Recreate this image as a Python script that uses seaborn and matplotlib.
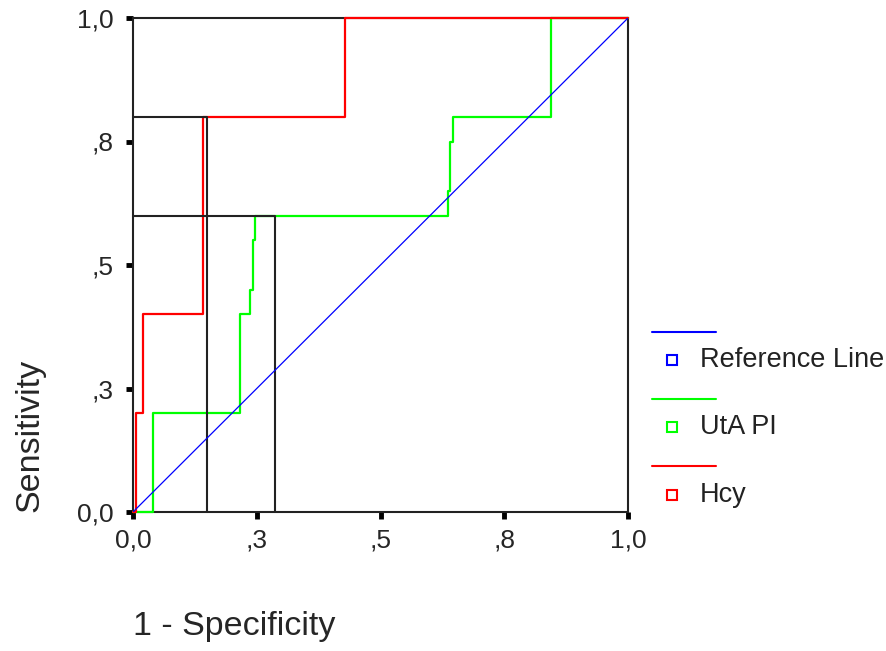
import matplotlib
matplotlib.use("Agg")
import matplotlib.pyplot as plt
import seaborn as sns
import pandas as pd
from matplotlib.lines import Line2D

# ===== data =====
hcy_fpr = [0, 0.006, 0.006, 0.02, 0.02, 0.141, 0.141, 0.428, 0.428, 1.0]
hcy_tpr = [0, 0, 0.2, 0.2, 0.4, 0.4, 0.8, 0.8, 1.0, 1.0]

uta_fpr = [0, 0.04, 0.04, 0.216, 0.216, 0.236, 0.236, 0.242, 0.242, 0.246, 0.246,
           0.636, 0.636, 0.641, 0.641, 0.646, 0.646, 0.844, 0.844, 1.0]
uta_tpr = [0, 0, 0.2, 0.2, 0.4, 0.4, 0.45, 0.45, 0.55, 0.55, 0.6,
           0.6, 0.65, 0.65, 0.75, 0.75, 0.8, 0.8, 1.0, 1.0]

ref_x = [0, 1]
ref_y = [0, 1]

# cut-off markers (1 - specificity, sensitivity)
cut_x = [0.15, 0.286]
cut_y = [0.8, 0.6]

tick_vals = [0, 0.25, 0.5, 0.75, 1.0]
tick_labels = ["0,0", ",3", ",5", ",8", "1,0"]

legend_names = ["Reference Line", "UtA PI", "Hcy"]
legend_colors = ["#0000ff", "#00ff00", "#ff0000"]

# ===== plot =====
sns.set_style("white")
plt.rcParams["font.family"] = ["Liberation Sans", "DejaVu Sans"]

fig = plt.figure(figsize=(8.86, 6.51), dpi=100)
ax = fig.add_axes([133 / 886, 139 / 651, 495 / 886, 494 / 651])

df_uta = pd.DataFrame({"fpr": uta_fpr, "tpr": uta_tpr})
df_hcy = pd.DataFrame({"fpr": hcy_fpr, "tpr": hcy_tpr})

sns.lineplot(data=df_uta, x="fpr", y="tpr", sort=False, estimator=None,
             color="#00ff00", linewidth=1.6, ax=ax, zorder=3, clip_on=False)
sns.lineplot(data=df_hcy, x="fpr", y="tpr", sort=False, estimator=None,
             color="#ff0000", linewidth=1.6, ax=ax, zorder=4, clip_on=False)

for cx, cy in zip(cut_x, cut_y):
    ax.plot([0, cx, cx], [cy, cy, 0], color="#222222", linewidth=1.5,
            zorder=5, clip_on=False)

ax.plot(ref_x, ref_y, color="#0000ff", linewidth=0.9, zorder=6)

ax.set_xlim(0, 1)
ax.set_ylim(0, 1)
ax.set_xticks(tick_vals)
ax.set_xticklabels(tick_labels)
ax.set_yticks(tick_vals)
ax.set_yticklabels(tick_labels)
ax.tick_params(direction="out", length=5, width=3.5, labelsize=19,
               color="black", bottom=True, left=True)
ax.tick_params(axis="x", pad=7)
ax.tick_params(axis="y", pad=9)
ax.set_xlabel("")
ax.set_ylabel("")
for sp in ax.spines.values():
    sp.set_visible(True)
    sp.set_color("#222222")
    sp.set_linewidth(1.5)
    sp.set_zorder(2)

fig.text(30 / 886, 139 / 651, "Sensitivity", rotation=90, ha="center",
         va="bottom", fontsize=24.5)
fig.text(133 / 886, 1 - 627 / 651, "1 - Specificity", ha="left",
         va="center", fontsize=24.5)

# legend drawn by hand, SPSS style (line above, square + name below)
leg_line_y = [331.7, 399, 466]
leg_box_y = [360, 427, 495]
for name, col, ly, by in zip(legend_names, legend_colors, leg_line_y, leg_box_y):
    fig.add_artist(Line2D([652 / 886, 716 / 886], [1 - ly / 651, 1 - ly / 651],
                          color=col, linewidth=1.5))
    fig.add_artist(Line2D([672 / 886], [1 - by / 651], marker="s",
                          markersize=6.5, markerfacecolor="white",
                          markeredgecolor=col, markeredgewidth=1.5,
                          linestyle="none"))
    fig.text(700 / 886, 1 - by / 651, name, ha="left", va="center",
             fontsize=19.5, color="#222222")

fig.savefig("out.png", dpi=100)
